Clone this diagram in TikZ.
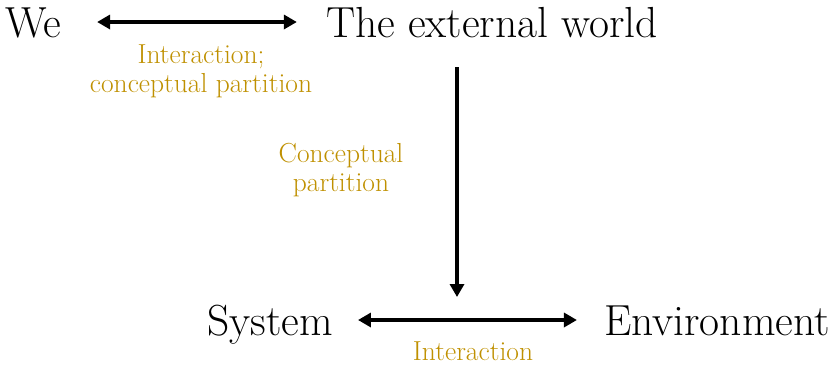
\documentclass[tikz,border=0pt]{standalone}
\usetikzlibrary{arrows.meta}
\definecolor{lblgold}{RGB}{191,144,0}
\begin{document}
\begin{tikzpicture}[x=1pt,y=-1pt,
  big/.style={inner sep=0pt,anchor=base,font=\fontsize{43.5}{48}\selectfont,text height=30pt,text depth=0pt},
  lbl/.style={inner sep=0pt,text=lblgold,align=center,font=\fontsize{27.5}{29}\selectfont},
  arr/.style={line width=3.5pt,{Triangle[length=13pt,width=14pt]}-{Triangle[length=13pt,width=14pt]}},
  arrone/.style={line width=3.5pt,-{Triangle[length=13pt,width=14pt]}}]
\useasboundingbox (0,0) rectangle (834,365);
\node[big] (we) at (33,37) {We};
\node[big] (ext) at (492,37) {The external world};
\node[big] (sys) at (270,335) {System};
\node[big] (env) at (717,335) {Environment};
\coordinate (vend) at (457,297);
\draw[arr,shorten <=36pt,shorten >=29pt] (we.east) -- (ext.west);
\draw[arr,shorten <=25pt,shorten >=27pt] (sys.east) -- (env.west);
\draw[arrone,shorten <=30pt] (vend |- ext.south) -- (vend);
\node[lbl] (l1) at (201,71) {Interaction;\\conceptual partition};
\node[lbl] (l2) at (341,170) {Conceptual\\partition};
\node[lbl,anchor=base] (l3) at (473,360) {Interaction};
\end{tikzpicture}
\end{document}
